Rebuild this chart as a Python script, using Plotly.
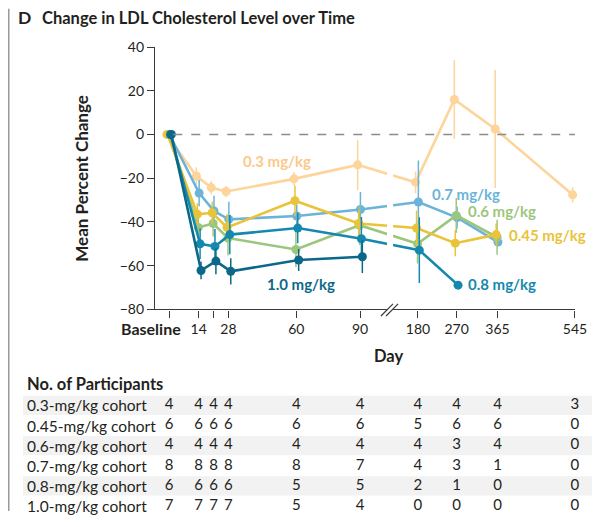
import plotly.graph_objects as go

# Days of follow-up
days = [0, 14, 21, 28, 60, 90, 180, 270, 365, 545]

# Mean percent change in LDL cholesterol
ldl_03 = [0, -19, -24.3, -26.1, -20.3, -13.9, -21.9, 16, 2.5, -27.6]
ldl_045 = [0, -36.5, -35.8, -42.5, -30.3, -40.7, -42.8, -49.7, -45.8]
ldl_06 = [0, -42.5, -40.7, -47.4, -52.6, -41.5, -50, -37, -47]
ldl_07 = [0, -26.8, -35, -38.8, -37.3, -34.3, -30.9, -38, -49.2]
ldl_08 = [0, -50, -51.2, -45.8, -42.8, -47.7, -52.9, -68.9]
ldl_10 = [0, -62.2, -57.9, -62.6, -57.4, -55.9]

# Error bar half-lengths
err_03 = [0, 4, 3, 2.5, 3, 11.5, 5, 18, 27, 3.5]
err_045 = [0, 5, 5, 6, 7, 6, 8, 6, 5]
err_06 = [0, 5, 6, 8, 8, 9, 9, 8, 8]
err_07 = [0, 6, 7, 8, 5, 8, 19, 5, 0]
err_08 = [0, 7, 8, 9, 7, 10, 15, 0]
err_10 = [0, 4, 6, 6, 5, 7.5]

# Number of participants
cohorts = ["0.3-mg/kg cohort", "0.45-mg/kg cohort", "0.6-mg/kg cohort",
           "0.7-mg/kg cohort", "0.8-mg/kg cohort", "1.0-mg/kg cohort"]
n_03 = [4, 4, 4, 4, 4, 4, 4, 4, 4, 3]
n_045 = [6, 6, 6, 6, 6, 6, 5, 6, 6, 0]
n_06 = [4, 4, 4, 4, 4, 4, 4, 3, 4, 0]
n_07 = [8, 8, 8, 8, 8, 7, 4, 3, 1, 0]
n_08 = [6, 6, 6, 6, 5, 5, 2, 1, 0, 0]
n_10 = [7, 7, 7, 7, 5, 4, 0, 0, 0, 0]

tick_days = [0, 14, 21, 28, 60, 90, 180, 270, 365, 545]
tick_text = ["", "14", "", "28", "60", "90", "180", "270", "365", "545"]

FONT = "Lato"
INK = "#231f20"

# broken axis: days <= 90 linear, days >= 180 compressed
U180 = 117.3
K = 0.2027


def to_u(d):
    return d if d <= 90 else U180 + (d - 180) * K


series = [
    ("0.3 mg/kg", ldl_03, err_03, "#fdd49a", -1.1),
    ("0.7 mg/kg", ldl_07, err_07, "#6bb4d8", 0.2),
    ("0.6 mg/kg", ldl_06, err_06, "#9cc67e", -0.2),
    ("0.45 mg/kg", ldl_045, err_045, "#e9c33a", -0.65),
    ("0.8 mg/kg", ldl_08, err_08, "#1589ad", 0.65),
    ("1.0 mg/kg", ldl_10, err_10, "#0c6888", 1.1),
]

fig = go.Figure()

for name, vals, errs, color, off in series:
    xs = [to_u(d) + off for d in days[:len(vals)]]
    fig.add_trace(go.Scatter(
        x=xs, y=vals, mode="lines+markers", name=name,
        line=dict(color=color, width=2.6),
        marker=dict(color=color, size=9),
        error_y=dict(type="data", array=errs, color=color, thickness=1.5, width=0),
        cliponaxis=False, showlegend=False, hoverinfo="skip",
    ))

# participants table
counts = [n_03, n_045, n_06, n_07, n_08, n_10]
for i, row in enumerate(counts):
    fig.add_trace(go.Scatter(
        x=[to_u(d) for d in days], y=[i] * len(row), mode="text",
        text=[str(v) for v in row], textfont=dict(family=FONT, size=15, color=INK),
        xaxis="x2", yaxis="y2", cliponaxis=False, showlegend=False, hoverinfo="skip",
    ))

axis_common = dict(showgrid=False, zeroline=False, showline=True, linecolor="#3a3a3a",
                   linewidth=1.2, ticks="outside", ticklen=7, tickcolor="#3a3a3a",
                   tickwidth=1.2, tickfont=dict(family=FONT, size=14, color=INK))

# page adds an 8px body margin, so the figure is 16px smaller than the window
fig.update_layout(
    width=587, height=511,
    margin=dict(l=147, r=20, t=39, b=5),
    paper_bgcolor="white", plot_bgcolor="white",
    font=dict(family=FONT, color=INK),
    xaxis=dict(range=[-6.6, 191.3], tickvals=[to_u(d) for d in tick_days],
               ticktext=tick_text, domain=[0, 1], **axis_common),
    yaxis=dict(range=[-80, 40], tickvals=[-80, -60, -40, -20, 0, 20, 40],
               domain=[0.4283, 1], **axis_common),
    xaxis2=dict(range=[-6.6, 191.3], visible=False, anchor="y2", domain=[0, 1]),
    yaxis2=dict(range=[5.0, -1.94], visible=False, anchor="x2", domain=[0, 0.3041]),
)

shapes = []
# break gap in the lines
shapes.append(dict(type="rect", xref="x", yref="y", x0=102.7, x1=105.6, y0=-79, y1=39.5,
                   fillcolor="white", line=dict(width=0), layer="above"))
# dashed reference line at zero
shapes.append(dict(type="line", xref="x", yref="y", x0=2, x1=191.3, y0=0, y1=0,
                   line=dict(color="#8c8c8c", width=1.5, dash="dash"), layer="above"))
# axis break marks
shapes.append(dict(type="line", xref="x", yref="paper", x0=103.9 - 2.83, x1=103.9 + 2.83,
                   y0=0.4139, y1=0.4405, line=dict(color="white", width=4), layer="above"))
for c in [102.7, 105.1]:
    shapes.append(dict(type="line", xref="x", yref="paper", x0=c - 2.83, x1=c + 2.83,
                       y0=0.4139, y1=0.4405, line=dict(color="#3a3a3a", width=1.2), layer="above"))
# table row shading
for i in [0, 2, 4]:
    shapes.append(dict(type="rect", xref="paper", yref="y2", x0=-0.3143, x1=1.0405,
                       y0=i - 0.48, y1=i + 0.48, fillcolor="#f2f2f2",
                       line=dict(width=0), layer="below"))
# panel frame (left edge)
shapes.append(dict(type="line", xref="paper", yref="paper", x0=-0.3488, x1=-0.3488,
                   y0=-0.0107, y1=1.0835, line=dict(color="#9a9a9a", width=2)))
fig.update_layout(shapes=shapes)

ann = []
ann.append(dict(text="<b>D</b>", xref="paper", yref="paper", x=-0.331, y=1.0642,
                xanchor="left", yanchor="middle", showarrow=False,
                font=dict(family=FONT, size=17.5, color=INK)))
ann.append(dict(text="<b>Change in LDL Cholesterol Level over Time</b>", xref="paper",
                yref="paper", x=-0.2745, y=1.0642, xanchor="left", yanchor="middle",
                showarrow=False, font=dict(family=FONT, size=16.5, color=INK)))
ann.append(dict(text="<b>Mean Percent Change</b>", xref="paper", yref="paper", x=-0.175,
                y=0.7142, textangle=-90, xanchor="center", yanchor="middle", showarrow=False,
                font=dict(family=FONT, size=17, color=INK)))
ann.append(dict(text="<b>Baseline</b>", xref="paper", yref="paper", x=0.0674, y=0.3876,
                xanchor="right", yanchor="middle", showarrow=False,
                font=dict(family=FONT, size=16, color=INK)))
ann.append(dict(text="<b>Day</b>", xref="paper", yref="paper", x=0.557, y=0.3261,
                xanchor="center", yanchor="middle", showarrow=False,
                font=dict(family=FONT, size=16.5, color=INK)))

# series labels
labels = [
    ("0.3 mg/kg", 50.9, -12.1, "center", "#fbc98a"),
    ("1.0 mg/kg", 62.2, -68.4, "center", "#0c6888"),
    ("0.7 mg/kg", 123.0, -27.4, "left", "#6bb4d8"),
    ("0.6 mg/kg", 140.0, -35.1, "left", "#9cc67e"),
    ("0.45 mg/kg", 159.3, -45.8, "left", "#e9c33a"),
    ("0.8 mg/kg", 140.0, -68.3, "left", "#1589ad"),
]
for txt, lx, ly, anchor, col in labels:
    ann.append(dict(text=f"<b>{txt}</b>", xref="x", yref="y", x=lx, y=ly, xanchor=anchor,
                    yanchor="middle", showarrow=False,
                    font=dict(family=FONT, size=15, color=col)))

# table header and row labels
ann.append(dict(text="<b>No. of Participants</b>", xref="paper", yref="y2", x=-0.3095,
                y=-1.06, xanchor="left", yanchor="middle", showarrow=False,
                font=dict(family=FONT, size=16.5, color=INK)))
for i, c in enumerate(cohorts):
    ann.append(dict(text=c, xref="paper", yref="y2", x=-0.3095, y=i, xanchor="left",
                    yanchor="middle", showarrow=False,
                    font=dict(family=FONT, size=15.5, color=INK)))
fig.update_layout(annotations=ann)

fig.write_html("out.html")
